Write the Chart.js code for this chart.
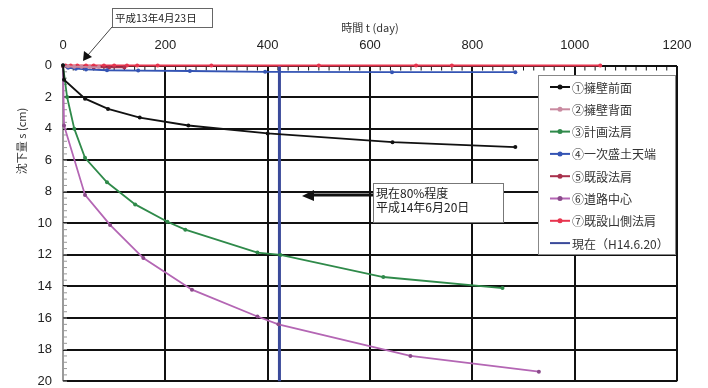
<!DOCTYPE html>
<html>
<head>
<meta charset="utf-8">
<script src="https://cdn.jsdelivr.net/npm/chart.js@4.4.1/dist/chart.umd.min.js"></script>
<style>
  html, body { margin: 0; padding: 0; background: #fff; overflow: hidden; }
  #grafico { display: block; }
</style>
</head>
<body>
<canvas id="grafico" width="708" height="400"></canvas>
<script>
// 沈下量データ (日数, cm)
const dias1 = [0, 2, 43, 88, 150, 245, 400, 644, 884];
const asent1 = [0, 0.9, 2.1, 2.75, 3.3, 3.8, 4.3, 4.86, 5.17];

const dias2 = [0, 10, 22, 36, 52, 70];
const asent2 = [0.05, 0.05, 0.08, 0.08, 0.1, 0.1];

const dias3 = [0, 8, 22, 43, 86, 141, 204, 239, 380, 425, 626, 859];
const asent3 = [0, 2.0, 4.0, 5.85, 7.4, 8.8, 9.9, 10.4, 11.85, 12.0, 13.4, 14.1];

const dias4 = [0, 10, 25, 45, 86, 147, 248, 395, 643, 884];
const asent4 = [0, 0.15, 0.2, 0.25, 0.3, 0.32, 0.35, 0.4, 0.42, 0.42];

const dias5 = [0, 8, 25, 40, 60, 90, 120];
const asent5 = [0.05, 0.08, 0.1, 0.1, 0.12, 0.12, 0.12];

const dias6 = [0, 2, 43, 92, 157, 252, 380, 421, 679, 930];
const asent6 = [0, 3.8, 8.2, 10.1, 12.2, 14.2, 15.9, 16.4, 18.4, 19.4];

const dias7 = [0, 5, 15, 28, 45, 60, 80, 100, 125, 145, 185, 290, 500, 690, 760, 1050];
const asent7 = [0, 0, 0, 0, 0, 0, 0, 0, 0, 0, 0, 0, 0, 0, 0, 0];

const diaActual = [423, 423];
const asentActual = [0, 20];

const xTicks = [0, 200, 400, 600, 800, 1000, 1200];
const yTicks = [0, 2, 4, 6, 8, 10, 12, 14, 16, 18, 20];

const nombres = ["①擁壁前面", "②擁壁背面", "③計画法肩", "④一次盛土天端", "⑤既設法肩", "⑥道路中心", "⑦既設山側法肩", "現在（H14.6.20）"];
const colores = ["#111111", "#c98aa0", "#2f8a4a", "#3454b4", "#a8304c", "#b466b4", "#e8354f", "#3a4a9a"];

const grafico = document.querySelector("#grafico");
const fuenteJp = "'Noto Sans CJK JP', 'Noto Sans', sans-serif";

function puntos(xs, ys) {
  return xs.map((x, i) => ({ x: x, y: ys[i] }));
}

const series = [
  puntos(dias1, asent1), puntos(dias2, asent2), puntos(dias3, asent3), puntos(dias4, asent4),
  puntos(dias5, asent5), puntos(dias6, asent6), puntos(dias7, asent7), puntos(diaActual, asentActual)
];

const datasets = series.map((data, i) => ({
  label: nombres[i],
  data: data,
  borderColor: colores[i],
  backgroundColor: colores[i],
  pointBackgroundColor: i === 5 ? "#8a4a8a" : colores[i],
  pointBorderColor: i === 5 ? "#8a4a8a" : colores[i],
  borderWidth: i === 7 ? 3 : 1.8,
  pointRadius: i === 7 ? 0 : 2,
  pointBorderWidth: 0,
  tension: 0,
  clip: false,
}));

// annotations, legend box and minor ticks
const extras = {
  id: "extras",
  beforeDatasetsDraw(chart) {
    const ctx = chart.ctx;
    const xs = chart.scales.x;
    const ys = chart.scales.y;
    const area = chart.chartArea;
    ctx.save();
    ctx.lineWidth = 1;
    ctx.strokeStyle = "#111";
    for (let d = 20; d < 1200; d += 20) {
      if (d % 200 === 0) continue;
      const px = xs.getPixelForValue(d);
      ctx.beginPath();
      ctx.moveTo(px, area.top);
      ctx.lineTo(px, area.top + 5);
      ctx.stroke();
    }
    ctx.strokeStyle = "#999";
    for (let v = 0.4; v < 20; v += 0.4) {
      const py = ys.getPixelForValue(v);
      ctx.beginPath();
      ctx.moveTo(area.left, py);
      ctx.lineTo(area.left + 4, py);
      ctx.stroke();
    }
    ctx.restore();
  },
  afterDatasetsDraw(chart) {
    const ctx = chart.ctx;
    ctx.save();

    // y title
    ctx.fillStyle = "#333";
    ctx.font = "11px " + fuenteJp;
    ctx.textAlign = "center";
    ctx.textBaseline = "middle";
    ctx.translate(22, 141);
    ctx.rotate(-Math.PI / 2);
    ctx.fillText("沈下量 s (cm)", 0, 0);
    ctx.setTransform(1, 0, 0, 1, 0, 0);

    // legend
    const lx = 538, ly = 75, lw = 137, lh = 179;
    ctx.fillStyle = "#fff";
    ctx.fillRect(lx, ly, lw, lh);
    ctx.strokeStyle = "#888";
    ctx.lineWidth = 1;
    ctx.strokeRect(lx + 0.5, ly + 0.5, lw, lh);
    chart.data.datasets.forEach((ds, i) => {
      const y = 87 + i * 22.3;
      ctx.strokeStyle = ds.borderColor;
      ctx.lineWidth = 2;
      ctx.beginPath();
      ctx.moveTo(550, y);
      ctx.lineTo(570, y);
      ctx.stroke();
      if (ds.pointRadius > 0) {
        ctx.fillStyle = ds.pointBackgroundColor;
        ctx.beginPath();
        ctx.arc(560, y, 2.5, 0, Math.PI * 2);
        ctx.fill();
      }
      ctx.fillStyle = "#333";
      ctx.font = "12px " + fuenteJp;
      ctx.textAlign = "left";
      ctx.textBaseline = "middle";
      ctx.fillText(ds.label, 572, y + 1);
    });

    // box 1: 平成13年4月23日
    ctx.fillStyle = "#fff";
    ctx.fillRect(112, 8, 100, 19);
    ctx.strokeStyle = "#666";
    ctx.lineWidth = 1;
    ctx.strokeRect(112.5, 8.5, 100, 19);
    ctx.fillStyle = "#222";
    ctx.font = "10.5px " + fuenteJp;
    ctx.textAlign = "left";
    ctx.textBaseline = "middle";
    ctx.fillText("平成13年4月23日", 115, 18);
    ctx.strokeStyle = "#444";
    ctx.beginPath();
    ctx.moveTo(112, 27);
    ctx.lineTo(88, 55);
    ctx.stroke();
    ctx.fillStyle = "#111";
    ctx.beginPath();
    ctx.moveTo(83, 61);
    ctx.lineTo(84, 51);
    ctx.lineTo(92, 57);
    ctx.closePath();
    ctx.fill();

    // box 2: 現在80%程度
    ctx.fillStyle = "#fff";
    ctx.fillRect(373, 183, 130, 39);
    ctx.strokeStyle = "#777";
    ctx.strokeRect(373.5, 183.5, 130, 39);
    ctx.fillStyle = "#222";
    ctx.font = "12px " + fuenteJp;
    ctx.fillText("現在80%程度", 376, 193);
    ctx.fillText("平成14年6月20日", 376, 207);
    ctx.strokeStyle = "#111";
    ctx.lineWidth = 3;
    ctx.beginPath();
    ctx.moveTo(373, 195);
    ctx.lineTo(312, 195);
    ctx.stroke();
    ctx.fillStyle = "#111";
    ctx.beginPath();
    ctx.moveTo(302, 196);
    ctx.lineTo(314, 190);
    ctx.lineTo(314, 201);
    ctx.closePath();
    ctx.fill();

    ctx.restore();
  },
};

new Chart(grafico, {
  type: "line",
  data: { datasets: datasets },
  plugins: [extras],
  options: {
    responsive: false,
    animation: false,
    layout: { padding: { top: 0, left: 0, right: 31, bottom: 11.5 } },
    plugins: { legend: { display: false }, tooltip: { enabled: false } },
    scales: {
      x: {
        type: "linear",
        position: "top",
        min: 0,
        max: 1200,
        afterBuildTicks: (scale) => { scale.ticks = xTicks.map((v) => ({ value: v })); },
        afterFit: (scale) => { scale.height = 65.5; },
        ticks: {
          padding: 12,
          color: "#222",
          font: { family: "'Liberation Sans', Arial", size: 13 },
          callback: (v) => String(v),
        },
        grid: {
          drawTicks: false,
          lineWidth: 2,
          color: (c) => (c.tick && c.tick.value === 0 ? "#9a9a9a" : "#111"),
        },
        border: { display: false },
        title: {
          display: true,
          text: "時間 t (day)",
          color: "#333",
          font: { family: fuenteJp, size: 11 },
          padding: { top: 21, bottom: 0 },
        },
      },
      y: {
        type: "linear",
        reverse: true,
        min: 0,
        max: 20,
        afterBuildTicks: (scale) => { scale.ticks = yTicks.map((v) => ({ value: v })); },
        afterFit: (scale) => { scale.width = 63; },
        ticks: {
          padding: 11,
          color: "#222",
          font: { family: "'Liberation Sans', Arial", size: 13 },
          callback: (v) => String(v),
        },
        grid: { drawTicks: false, lineWidth: 2, color: "#111" },
        border: { display: false },
      },
    },
  },
});
</script>
</body>
</html>
